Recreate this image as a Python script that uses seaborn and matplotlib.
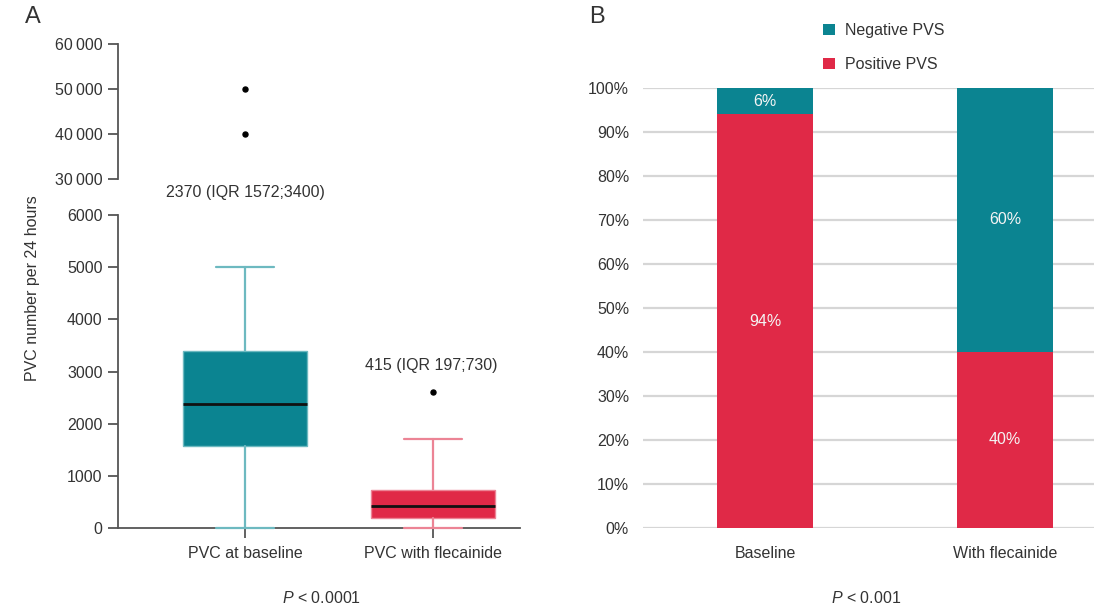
import matplotlib
matplotlib.use("Agg")
import matplotlib.pyplot as plt
from matplotlib.patches import Patch
from matplotlib.ticker import FuncFormatter
import seaborn as sns
import pandas as pd

# ---- Panel A: PVC burden per 24 hours (summary statistics) ----
pvc_groups = ["PVC at baseline", "PVC with flecainide"]
pvc_median = [2370, 415]
pvc_q1 = [1572, 197]
pvc_q3 = [3400, 730]
pvc_whisker_low = [0, 0]
pvc_whisker_high = [5000, 1700]
pvc_outliers = [[40000, 50000], [2600]]
pvc_labels = ["2370 (IQR 1572;3400)", "415 (IQR 197;730)"]

# ---- Panel B: programmed ventricular stimulation outcome (%) ----
pvs_groups = ["Baseline", "With flecainide"]
pvs_positive = [94, 40]
pvs_negative = [6, 60]

TEAL = "#0B8491"
RED = "#E02947"
TEAL_LIGHT = "#6DB9C0"
RED_LIGHT = "#EC8495"
TXT = "#333333"
AXC = "#555555"

sns.set_theme(style="white")
plt.rcParams["font.family"] = ["Liberation Sans", "DejaVu Sans"]
plt.rcParams["mathtext.fontset"] = "custom"
plt.rcParams["mathtext.rm"] = "Liberation Sans"
plt.rcParams["mathtext.it"] = "Liberation Sans:italic"
plt.rcParams["text.color"] = TXT
plt.rcParams["xtick.color"] = AXC
plt.rcParams["ytick.color"] = AXC
plt.rcParams["xtick.labelcolor"] = TXT
plt.rcParams["ytick.labelcolor"] = TXT

FS = 11.5
W, H = 1094, 609
fig = plt.figure(figsize=(W / 100, H / 100), dpi=100)


def frac(x0, y0, x1, y1):
    return [x0 / W, 1 - y1 / H, (x1 - x0) / W, (y1 - y0) / H]


ax_top = fig.add_axes(frac(118, 44, 520, 179))
ax_lo = fig.add_axes(frac(118, 215, 520, 528))
ax_b = fig.add_axes(frac(643, 88, 1094, 528))

colors_face = [TEAL, RED]
colors_line = [TEAL_LIGHT, RED_LIGHT]


def draw_boxes(ax, ymin, ymax, unclip_lines):
    stats = []
    for i in range(len(pvc_groups)):
        stats.append(dict(
            med=pvc_median[i], q1=pvc_q1[i], q3=pvc_q3[i],
            whislo=pvc_whisker_low[i], whishi=pvc_whisker_high[i],
            fliers=[v for v in pvc_outliers[i] if ymin <= v <= ymax],
            label=pvc_groups[i],
        ))
    art = ax.bxp(stats, positions=range(len(stats)), widths=0.655,
                 capwidths=0.31, patch_artist=True, showfliers=True,
                 manage_ticks=False,
                 flierprops=dict(marker="o", markersize=3.6,
                                 markerfacecolor="black",
                                 markeredgecolor="black"),
                 medianprops=dict(color="#111111", linewidth=2))
    for i, b in enumerate(art["boxes"]):
        b.set_facecolor(colors_face[i])
        b.set_edgecolor(colors_line[i])
        b.set_linewidth(1)
    for i in range(len(stats)):
        for ln in art["whiskers"][2 * i:2 * i + 2] + art["caps"][2 * i:2 * i + 2]:
            ln.set_color(colors_line[i])
            ln.set_linewidth(1.6)
            if unclip_lines:
                ln.set_clip_on(False)
                ln.set_zorder(3)
    return art


# Upper segment of the broken axis (outliers)
draw_boxes(ax_top, 30000, 60000, unclip_lines=False)
ax_top.set_ylim(30000, 60000)
ax_top.set_xlim(-0.676, 1.463)
ax_top.set_yticks([30000, 40000, 50000, 60000])
ax_top.yaxis.set_major_formatter(
    FuncFormatter(lambda v, p: f"{int(v):,}".replace(",", "\u2009")))
for s in ["top", "right", "bottom"]:
    ax_top.spines[s].set_visible(False)
ax_top.spines["left"].set_color(AXC)
ax_top.spines["left"].set_linewidth(1.3)
ax_top.set_xticks([])
ax_top.tick_params(axis="y", length=7, width=1.3, labelsize=FS, pad=4,
                   left=True)
ax_top.patch.set_alpha(0)

# Lower segment of the broken axis
draw_boxes(ax_lo, 0, 6000, unclip_lines=True)
ax_lo.set_ylim(0, 6000)
ax_lo.set_xlim(-0.676, 1.463)
ax_lo.set_yticks(range(0, 6001, 1000))
ax_lo.set_xticks(range(len(pvc_groups)))
ax_lo.set_xticklabels(pvc_groups)
for s in ["top", "right"]:
    ax_lo.spines[s].set_visible(False)
for s in ["left", "bottom"]:
    ax_lo.spines[s].set_color(AXC)
    ax_lo.spines[s].set_linewidth(1.3)
ax_lo.tick_params(axis="y", length=7, width=1.3, labelsize=FS, pad=4,
                  left=True)
ax_lo.tick_params(axis="x", length=7, width=1.3, labelsize=FS, pad=6,
                  bottom=True)
ax_lo.patch.set_alpha(0)

# Median / IQR annotations
ax_lo.annotate(pvc_labels[0], xy=(0, 6000), xytext=(0, 16),
               textcoords="offset points", ha="center", va="center",
               fontsize=FS, annotation_clip=False)
ax_lo.annotate(pvc_labels[1], xy=(1, pvc_outliers[1][0]), xytext=(-1, 19),
               textcoords="offset points", ha="center", va="center",
               fontsize=FS, annotation_clip=False)

fig.text(33 / W, 1 - 288 / H, "PVC number per 24 hours", rotation=90,
         ha="center", va="center", fontsize=FS)
fig.text(322 / W, 1 - 598 / H, r"$\it{P}$ < 0.0001", ha="center",
         va="center", fontsize=FS)

# ---- Panel B: stacked percentage bars ----
df_b = pd.DataFrame({
    "group": pvs_groups,
    "total": [p + n for p, n in zip(pvs_positive, pvs_negative)],
    "positive": pvs_positive,
    "negative": pvs_negative,
})
sns.barplot(data=df_b, x="group", y="total", color=TEAL, width=0.4,
            saturation=1, ax=ax_b, zorder=3, linewidth=0)
sns.barplot(data=df_b, x="group", y="positive", color=RED, width=0.4,
            saturation=1, ax=ax_b, zorder=3, linewidth=0)
ax_b.set_ylim(0, 100)
ax_b.set_xlim(-0.508, 1.37)
ax_b.set_yticks(range(0, 101, 10))
ax_b.set_yticklabels([f"{v}%" for v in range(0, 101, 10)])
ax_b.grid(axis="y", color="#D6D6D6", linewidth=1.6, zorder=0)
ax_b.set_axisbelow(True)
for s in ax_b.spines.values():
    s.set_visible(False)
ax_b.tick_params(axis="y", length=0, labelsize=FS, pad=10)
ax_b.tick_params(axis="x", length=0, labelsize=FS, pad=13)
ax_b.set_xlabel("")
ax_b.set_ylabel("")

for i, row in df_b.iterrows():
    ax_b.text(i, row["positive"] / 2, f"{row['positive']}%", ha="center",
              va="center", color="#F4F4F4", fontsize=FS, zorder=5)
    ax_b.text(i, row["positive"] + row["negative"] / 2,
              f"{row['negative']}%", ha="center", va="center",
              color="#F4F4F4", fontsize=FS, zorder=5)

handles = [Patch(facecolor=TEAL, edgecolor="none", label="Negative PVS"),
           Patch(facecolor=RED, edgecolor="none", label="Positive PVS")]
fig.legend(handles=handles, loc="upper left",
           bbox_to_anchor=(823 / W, 1 - 23 / H), frameon=False,
           fontsize=FS, handlelength=0.75, handleheight=0.75,
           handletextpad=0.6, labelspacing=1.2, borderpad=0,
           borderaxespad=0)

fig.text(866 / W, 1 - 598 / H, r"$\it{P}$ < 0.001", ha="center",
         va="center", fontsize=FS)

# Panel letters
fig.text(33 / W, 1 - 17 / H, "A", ha="center", va="center", fontsize=17)
fig.text(597 / W, 1 - 17 / H, "B", ha="center", va="center", fontsize=17)

fig.savefig("out.png", dpi=100)
